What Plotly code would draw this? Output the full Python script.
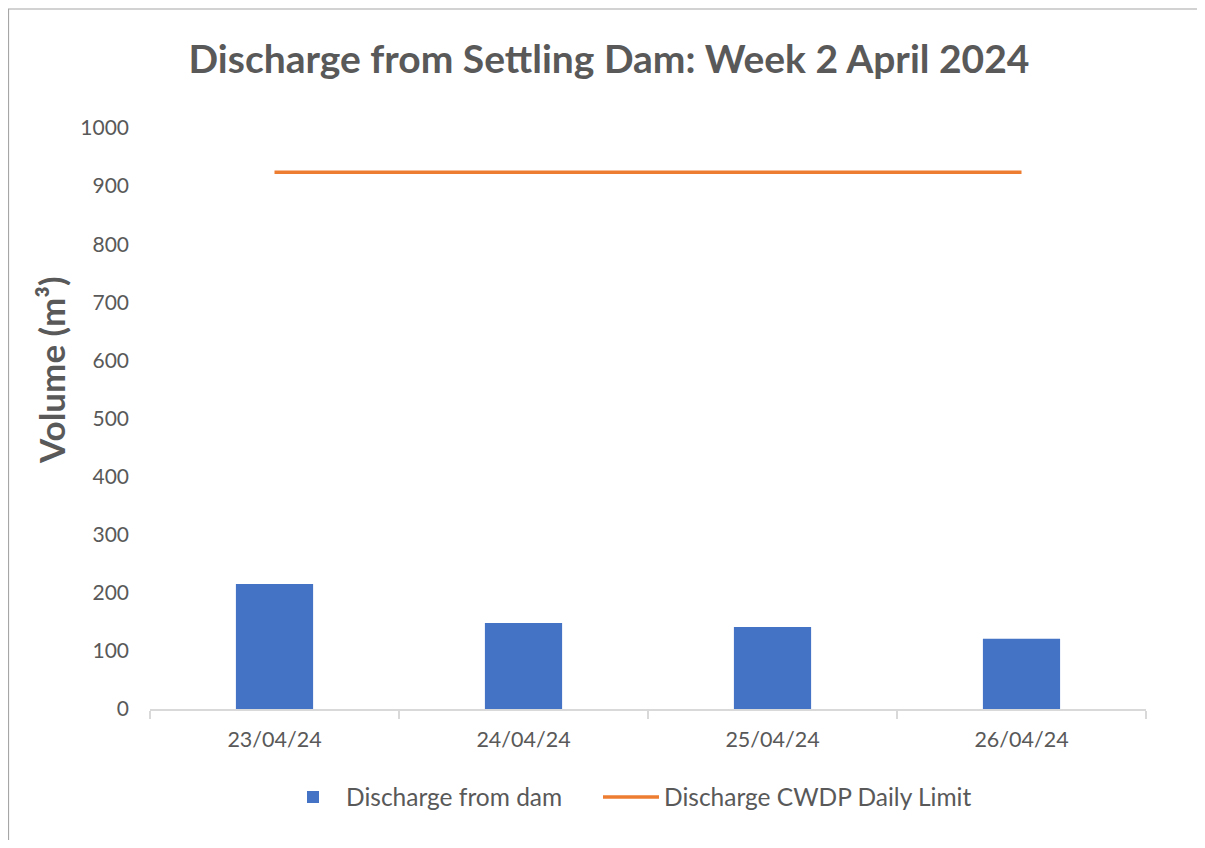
import plotly.graph_objects as go

dates = ["23/04/24", "24/04/24", "25/04/24", "26/04/24"]
discharge = [215, 148, 141, 121]
limit = [924, 924, 924, 924]

# page has an 8px body margin; work in reference pixel coordinates minus 8
OFF = 8
W, H = 1205 - 2 * OFF, 848 - 2 * OFF
L, T = 150 - OFF, 128 - OFF
R = W - (1146 - OFF)
B = H - (709 - OFF)
pw, ph = W - L - R, H - T - B

def px(x):
    return (x - OFF - L) / pw

def py(y):
    return (H - B - (y - OFF)) / ph

fig = go.Figure()
fig.add_trace(go.Bar(x=dates, y=discharge, name="Discharge from dam",
                     marker=dict(color="#4472C4", line=dict(width=0)),
                     legend="legend"))
fig.add_trace(go.Scatter(x=dates, y=limit, name="Discharge CWDP Daily Limit",
                         mode="lines", line=dict(color="#ED7D31", width=3.5),
                         legend="legend2"))

font = "Lato, 'Open Sans', sans-serif"
grey = "#595959"

leg_common = dict(orientation="h", xanchor="left", yanchor="middle",
                  font=dict(size=24.5, color=grey), itemwidth=56,
                  bgcolor="rgba(0,0,0,0)")

fig.update_layout(
    width=W, height=H,
    margin=dict(l=L, r=R, t=T, b=B),
    paper_bgcolor="white", plot_bgcolor="white",
    bargap=0.69,
    title=dict(text="<b>Discharge from Settling Dam: Week 2 April 2024</b>",
               x=(609 - OFF) / W, xanchor="center", xref="container",
               y=1 - (59 - OFF) / H, yref="container", yanchor="middle",
               font=dict(family=font, size=39, color=grey)),
    font=dict(family=font, color=grey),
    xaxis=dict(showline=True, linecolor="#D9D9D9", linewidth=1.5,
               ticks="outside", tickson="boundaries", ticklen=8, tickcolor="#D9D9D9",
               tickwidth=1.5, tickfont=dict(size=21.5, color=grey), showgrid=False,
               ticklabelstandoff=10),
    yaxis=dict(range=[0, 1000], dtick=100, showgrid=False, showline=False,
               zeroline=False, ticks="", tickfont=dict(size=21, color=grey),
               ticklabelstandoff=20),
    legend=dict(x=px(280), y=py(797), **leg_common),
    legend2=dict(x=px(598), y=py(797), **leg_common),
    showlegend=True,
    annotations=[dict(text="<b>Volume (m³)</b>", textangle=-90, xref="paper", yref="paper",
                      x=px(51), y=py(370), xanchor="center", yanchor="middle",
                      showarrow=False, font=dict(family=font, size=35, color=grey))],
    shapes=[dict(type="path", xref="paper", yref="paper",
                 path=f"M {px(8.5)} {py(860)} L {px(8.5)} {py(9)} L {px(1220)} {py(9)}",
                 line=dict(color="#A6A6A6", width=1.2))],
)
fig.write_html("out.html")
